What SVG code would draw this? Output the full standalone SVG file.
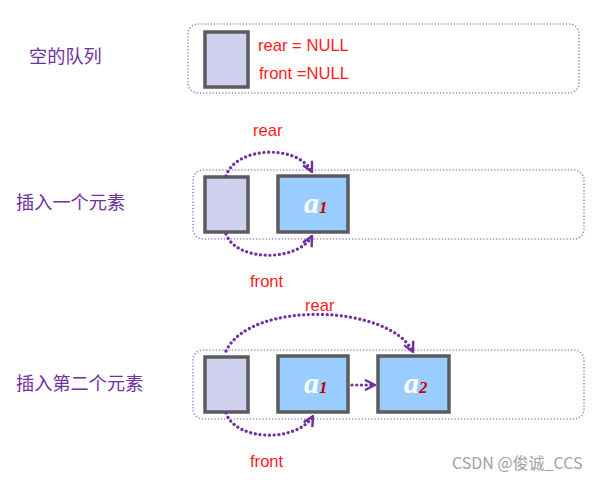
<svg xmlns="http://www.w3.org/2000/svg" width="597" height="480" viewBox="0 0 597 480">
<defs>
<style>
.panel{fill:none;stroke:#8c88d2;stroke-width:1.6;stroke-dasharray:1.2 2;}
.empty{fill:#d0d0ef;stroke:#5b5b5f;stroke-width:3.5;}
.elem{fill:#99ccff;stroke:#5b5b5f;stroke-width:3.5;}
.lbl{font-family:"Noto Sans CJK SC","Noto Sans",sans-serif;font-size:18.2px;fill:#7030a0;}
.red{font-family:"Liberation Sans",Arial,sans-serif;font-size:16.6px;fill:#ff1a1a;}
.conn{fill:none;stroke:#7030a0;stroke-width:3.2;stroke-dasharray:0.1 4.6;stroke-linecap:round;}
.av{font-family:"Liberation Serif","Times New Roman",serif;font-style:italic;font-weight:bold;font-size:30px;fill:#ffffff;}
.sub{font-family:"Liberation Serif","Times New Roman",serif;font-style:italic;font-weight:bold;font-size:17px;fill:#c00000;}
</style>
<marker id="arr" viewBox="0 0 12 12" refX="11" refY="6" markerWidth="12" markerHeight="12" markerUnits="userSpaceOnUse" orient="auto">
<path d="M1,1 L11,6 L1,11" fill="none" stroke="#7030a0" stroke-width="2.4"/>
</marker>
</defs>
<rect width="597" height="480" fill="#ffffff"/>

<g id="label-empty"><text class="lbl" x="29" y="63">空的队列</text></g>
<g id="label-insert1"><text class="lbl" x="16" y="209">插入一个元素</text></g>
<g id="label-insert2"><text class="lbl" x="16" y="390">插入第二个元素</text></g>

<g id="panel1">
<rect class="panel" x="188" y="24" width="391" height="69" rx="10"/>
<rect class="empty" x="205" y="32" width="43" height="55"/>
<text class="red" x="258" y="51">rear = NULL</text>
<text class="red" x="259" y="79">front =NULL</text>
</g>

<g id="panel2">
<rect class="panel" x="193" y="170" width="391" height="69" rx="10"/>
<rect class="empty" x="205" y="177" width="43" height="55"/>
<rect class="elem" x="278" y="176" width="70" height="56"/>
<text x="304" y="213"><tspan class="av">a</tspan><tspan class="sub">1</tspan></text>
<text class="red" x="253" y="136">rear</text>
<text class="red" x="250" y="287">front</text>
</g>

<g id="panel3">
<rect class="panel" x="193" y="350" width="391" height="69" rx="10"/>
<rect class="empty" x="205" y="357" width="43" height="55"/>
<rect class="elem" x="278" y="356" width="70" height="56"/>
<text x="304" y="393"><tspan class="av">a</tspan><tspan class="sub">1</tspan></text>
<rect class="elem" x="378" y="356" width="71" height="56"/>
<text x="404" y="393"><tspan class="av">a</tspan><tspan class="sub">2</tspan></text>
<text class="red" x="305" y="311">rear</text>
<text class="red" x="250" y="467">front</text>
</g>

<g id="connectors">
<path class="conn" d="M226,176 C236,146 298,144 312,172" marker-end="url(#arr)"/>
<path class="conn" d="M226,234 C236,262 298,262 312,236" marker-end="url(#arr)"/>
<path class="conn" d="M226,351 C250,300 390,304 413,352" marker-end="url(#arr)"/>
<path class="conn" d="M226,413 C236,442 298,442 313,416" marker-end="url(#arr)"/>
<path class="conn" d="M352,385 L375,385" marker-end="url(#arr)"/>
</g>

<text x="452" y="469" font-family="'Noto Sans CJK SC','Noto Sans',sans-serif" font-size="16" fill="#a0a0a0">CSDN @俊诚_CCS</text>
</svg>
